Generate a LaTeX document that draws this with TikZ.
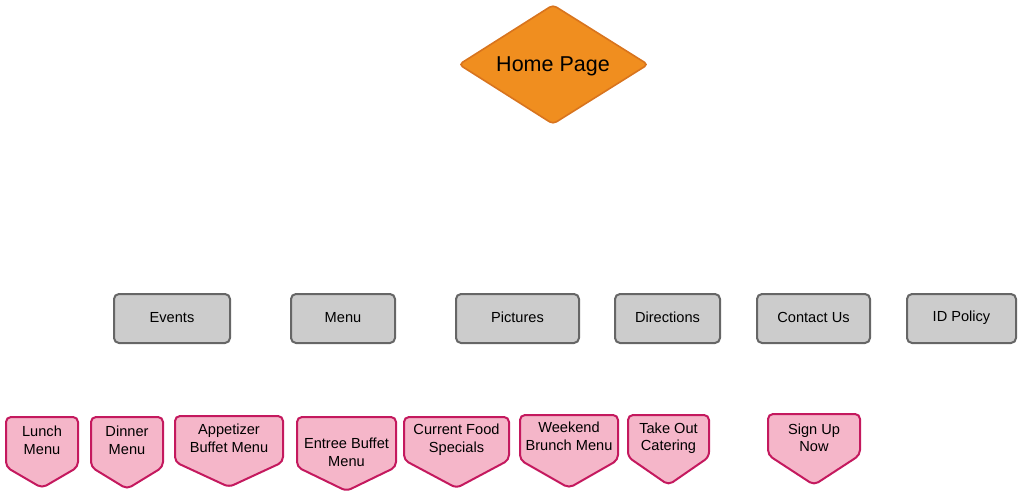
\documentclass[tikz,border=0pt]{standalone}
\usepackage{fontspec}
\setmainfont{Liberation Sans}
\usetikzlibrary{shapes.geometric}
\definecolor{homefill}{HTML}{F08E1F}
\definecolor{homedraw}{HTML}{D8741E}
\definecolor{boxfill}{HTML}{CCCCCC}
\definecolor{boxdraw}{HTML}{666666}
\definecolor{pinkfill}{HTML}{F5B6C9}
\definecolor{pinkdraw}{HTML}{C4195E}
\tikzset{
  homestyle/.style={draw=homedraw, fill=homefill, line width=1.6pt, rounded corners=4pt},
  graybox/.style={draw=boxdraw, fill=boxfill, line width=2pt, rounded corners=5pt},
  graytext/.style={inner sep=0pt, font=\fontsize{14.6}{17}\selectfont},
  pinkbox/.style={draw=pinkdraw, fill=pinkfill, line width=2pt, rounded corners=5pt},
  pinktext/.style={align=center, inner sep=0pt, font=\fontsize{14.6}{17.5}\selectfont}
}
% name, xl, xr, ytop, yside, ytip, label, label y
\newcommand\offpage[8]{%
  \draw[pinkbox] ({(#2+#3)/2},#4) -- (#3,#4) -- (#3,#5) -- ({(#2+#3)/2},#6) -- (#2,#5) -- (#2,#4) -- cycle;
  \node[pinktext] (#1) at ({(#2+#3)/2},#8) {#7};}
% name, xl, xr, label
\newcommand\grayrect[4]{%
  \draw[graybox] (#2,294) rectangle (#3,343);
  \node[graytext] (#1) at ({(#2+#3)/2},317.5) {#4};}
\begin{document}
\begin{tikzpicture}[x=1pt,y=-1pt]
\useasboundingbox (0,0) rectangle (1024,494);
% home page diamond
\draw[homestyle] (553,5) -- (648,64.5) -- (553,124) -- (459,64.5) -- cycle;
\node[font=\fontsize{21.5}{25}\selectfont, inner sep=0pt] (home) at (553,66.5) {Home Page};
% gray boxes
\grayrect{events}{114}{230}{Events}
\grayrect{menu}{291}{395}{Menu}
\grayrect{pictures}{456}{579}{Pictures}
\grayrect{directions}{615}{720}{Directions}
\grayrect{contact}{757}{870}{Contact Us}
\grayrect{idpolicy}{907}{1016}{ID Policy}
% pink off-page shapes
\offpage{lunch}{6}{78}{417}{467}{488}{Lunch\\Menu}{440.5}
\offpage{dinner}{91}{163}{417}{467}{489}{Dinner\\Menu}{440.5}
\offpage{appetizer}{175}{283}{416}{462}{487}{Appetizer\\Buffet Menu}{438.5}
\offpage{entree}{297}{396}{417}{467}{491}{Entree Buffet\\Menu}{452.5}
\offpage{current}{404}{509}{417}{460}{488}{Current Food\\Specials}{439.5}
\offpage{weekend}{520}{618}{415}{460}{488}{Weekend\\Brunch Menu}{436.5}
\offpage{takeout}{628}{709}{415}{457}{485}{Take Out\\Catering}{438}
\offpage{signup}{768}{860}{414}{455}{485}{Sign Up\\Now}{438}
\end{tikzpicture}
\end{document}
